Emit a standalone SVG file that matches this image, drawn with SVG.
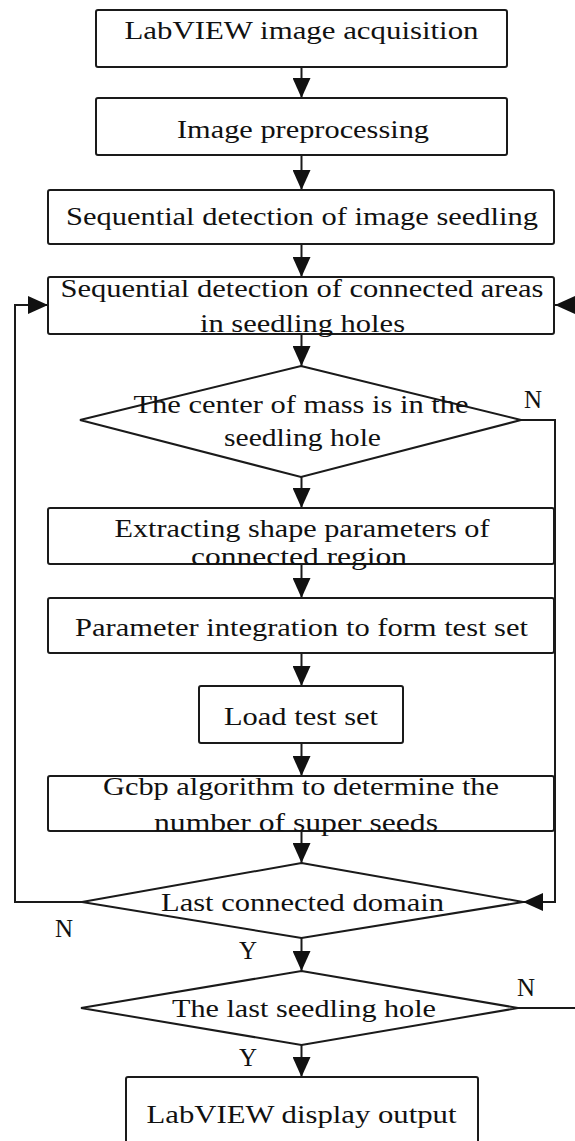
<svg xmlns="http://www.w3.org/2000/svg" width="575" height="1141" viewBox="0 0 575 1141">
<defs>
<style>
.box{fill:#fff;stroke:#1a1a1a;stroke-width:2}
.dia{fill:#fff;stroke:#1a1a1a;stroke-width:2}
.con{fill:none;stroke:#1a1a1a;stroke-width:2}
text{font-family:"Liberation Serif","Times New Roman",serif;font-size:25px;fill:#111}
.c{text-anchor:middle}
</style>
<marker id="ah" viewBox="0 0 20 18" refX="20" refY="9" markerWidth="20" markerHeight="18" markerUnits="userSpaceOnUse" orient="auto">
<path d="M0,0 L20,9 L0,18 Z" fill="#111"/>
</marker>
</defs>
<rect width="575" height="1141" fill="#fff"/>
<g id="connectors">
<path class="con" d="M301.5 67 V98" marker-end="url(#ah)"/>
<path class="con" d="M301.5 155 V190" marker-end="url(#ah)"/>
<path class="con" d="M301.5 244 V277" marker-end="url(#ah)"/>
<path class="con" d="M301.5 334 V366" marker-end="url(#ah)"/>
<path class="con" d="M301.5 477 V508" marker-end="url(#ah)"/>
<path class="con" d="M301.5 564 V598" marker-end="url(#ah)"/>
<path class="con" d="M301.5 653 V686" marker-end="url(#ah)"/>
<path class="con" d="M301.5 743 V776" marker-end="url(#ah)"/>
<path class="con" d="M301.5 831 V863" marker-end="url(#ah)"/>
<path class="con" d="M301.5 938 V971" marker-end="url(#ah)"/>
<path class="con" d="M301.5 1045 V1077" marker-end="url(#ah)"/>
<path class="con" d="M521 420 H555 V902 H523" marker-end="url(#ah)"/>
<path class="con" d="M82 902 H15 V305 H48" marker-end="url(#ah)"/>
<path class="con" d="M518 1008 H595 V305 H555" marker-end="url(#ah)"/>
</g>
<g id="n1"><rect class="box" x="96" y="10" width="411" height="57" rx="2"/>
<text class="c" x="301.5" y="39" textLength="354" lengthAdjust="spacingAndGlyphs">LabVIEW image acquisition</text></g>
<g id="n2"><rect class="box" x="96" y="98" width="411" height="57" rx="2"/>
<text class="c" x="303" y="138" textLength="252" lengthAdjust="spacingAndGlyphs">Image preprocessing</text></g>
<g id="n3"><rect class="box" x="48" y="190" width="506" height="54" rx="2"/>
<text class="c" x="302" y="225" textLength="472" lengthAdjust="spacingAndGlyphs">Sequential detection of image seedling</text></g>
<g id="n4"><rect class="box" x="48" y="277" width="506" height="57" rx="2"/>
<text class="c" x="302" y="297" textLength="483" lengthAdjust="spacingAndGlyphs">Sequential detection of connected areas</text>
<text class="c" x="302.5" y="332" textLength="205" lengthAdjust="spacingAndGlyphs">in seedling holes</text></g>
<g id="n5"><polygon class="dia" points="301,366 521,420 301,477 80,420"/>
<text class="c" x="301" y="413" textLength="335" lengthAdjust="spacingAndGlyphs">The center of mass is in the</text>
<text class="c" x="302.5" y="446" textLength="157" lengthAdjust="spacingAndGlyphs">seedling hole</text></g>
<g id="n6"><rect class="box" x="48" y="508" width="506" height="56" rx="2"/>
<text class="c" x="302" y="537" textLength="375" lengthAdjust="spacingAndGlyphs">Extracting shape parameters of</text>
<text class="c" x="299" y="565" textLength="216" lengthAdjust="spacingAndGlyphs">connected region</text></g>
<g id="n7"><rect class="box" x="48" y="598" width="506" height="55" rx="2"/>
<text class="c" x="301.5" y="636" textLength="453" lengthAdjust="spacingAndGlyphs">Parameter integration to form test set</text></g>
<g id="n8"><rect class="box" x="199" y="686" width="204" height="57" rx="2"/>
<text class="c" x="301" y="725" textLength="154" lengthAdjust="spacingAndGlyphs">Load test set</text></g>
<g id="n9"><rect class="box" x="48" y="776" width="506" height="55" rx="2"/>
<text class="c" x="301" y="795" textLength="396" lengthAdjust="spacingAndGlyphs">Gcbp algorithm to determine the</text>
<text class="c" x="296" y="831" textLength="284" lengthAdjust="spacingAndGlyphs">number of super seeds</text></g>
<g id="n10"><polygon class="dia" points="301.5,863 523,902 301.5,938 82,902"/>
<text class="c" x="302.5" y="911" textLength="283" lengthAdjust="spacingAndGlyphs">Last connected domain</text></g>
<g id="n11"><polygon class="dia" points="301.5,971 518,1008 301.5,1045 81,1008"/>
<text class="c" x="304" y="1017" textLength="264" lengthAdjust="spacingAndGlyphs">The last seedling hole</text></g>
<g id="n12"><rect class="box" x="126" y="1077" width="352" height="80" rx="2"/>
<text class="c" x="301.5" y="1123" textLength="310" lengthAdjust="spacingAndGlyphs">LabVIEW display output</text></g>
<g id="labels">
<text class="c" x="533" y="408">N</text>
<text class="c" x="64" y="937">N</text>
<text class="c" x="248" y="959">Y</text>
<text class="c" x="526" y="996">N</text>
<text class="c" x="248" y="1066">Y</text>
</g>
</svg>
